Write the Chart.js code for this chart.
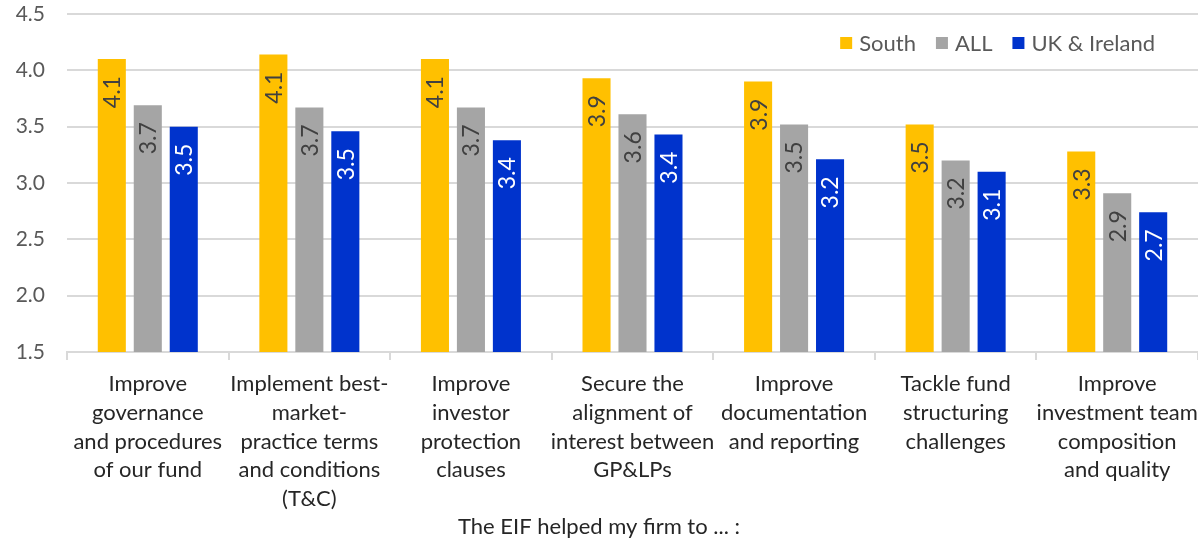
<!DOCTYPE html>
<html>
<head>
<meta charset="utf-8">
<script src="https://cdn.jsdelivr.net/npm/chart.js@4"></script>
<style>
  html, body { margin: 0; padding: 0; background: #fff; }
  #wrap { width: 1198px; height: 541px; }
</style>
</head>
<body>
<div id="wrap"><canvas id="myChart"></canvas></div>
<script>
const categories = [
  ['Improve', 'governance', 'and procedures', 'of our fund'],
  ['Implement best-', 'market-', 'practice terms', 'and conditions', '(T&C)'],
  ['Improve', 'investor', 'protection', 'clauses'],
  ['Secure the', 'alignment of', 'interest between', 'GP&LPs'],
  ['Improve', 'documentation', 'and reporting'],
  ['Tackle fund', 'structuring', 'challenges'],
  ['Improve', 'investment team', 'composition', 'and quality']
]
const southValues = [4.10, 4.14, 4.10, 3.93, 3.90, 3.52, 3.28]
const allValues = [3.69, 3.67, 3.67, 3.61, 3.52, 3.20, 2.91]
const ukValues = [3.50, 3.46, 3.38, 3.43, 3.21, 3.10, 2.74]
const yTicks = [1.5, 2.0, 2.5, 3.0, 3.5, 4.0, 4.5]

const FONT = 'Lato'
const labelColors = ['#404040', '#404040', '#ffffff']

// values written vertically inside the top of each bar
const barLabels = {
  id: 'barLabels',
  afterDatasetsDraw(chart) {
    const ctx = chart.ctx
    chart.data.datasets.forEach((ds, i) => {
      const meta = chart.getDatasetMeta(i)
      meta.data.forEach((bar, j) => {
        ctx.save()
        ctx.translate(bar.x, bar.y + 17)
        ctx.rotate(-Math.PI / 2)
        ctx.font = '23px ' + FONT
        ctx.fillStyle = labelColors[i]
        ctx.textAlign = 'right'
        ctx.textBaseline = 'middle'
        ctx.fillText(ds.data[j].toFixed(1), 0, 1)
        ctx.restore()
      })
    })
  }
}

// legend in the top right corner of the plot
const cornerLegend = {
  id: 'cornerLegend',
  afterDraw(chart) {
    const ctx = chart.ctx
    ctx.save()
    ctx.font = '22px ' + FONT
    ctx.textBaseline = 'middle'
    const y = 43
    let x = 1155
    const items = chart.data.datasets.slice().reverse()
    items.forEach(ds => {
      const w = ctx.measureText(ds.label).width
      x -= w
      ctx.fillStyle = '#595959'
      ctx.fillText(ds.label, x, y + 1)
      x -= 7 + 12
      ctx.fillStyle = ds.backgroundColor
      ctx.fillRect(x, y - 6, 12, 12)
      x -= 20
    })
    ctx.restore()
  }
}

const ctx = document.getElementById('myChart')
new Chart(ctx, {
  type: 'bar',
  data: {
    labels: categories,
    datasets: [
      { label: 'South', data: southValues, backgroundColor: '#FFC000' },
      { label: 'ALL', data: allValues, backgroundColor: '#A5A5A5' },
      { label: 'UK & Ireland', data: ukValues, backgroundColor: '#0033CC' }
    ]
  },
  options: {
    responsive: true,
    maintainAspectRatio: false,
    animation: false,
    categoryPercentage: 0.668,
    barPercentage: 0.78,
    layout: { padding: { top: 14, right: 0, left: 0, bottom: 0 } },
    plugins: {
      legend: { display: false },
      tooltip: { enabled: false },
      title: {
        display: true,
        position: 'bottom',
        text: 'The EIF helped my firm to ... :',
        color: '#262626',
        font: { family: FONT, size: 22, weight: 'normal' },
        padding: { top: 0, bottom: 1 }
      }
    },
    scales: {
      x: {
        grid: {
          offset: true,
          drawOnChartArea: false,
          tickLength: 8,
          color: '#D9D9D9',
          lineWidth: 2
        },
        border: { color: '#D9D9D9', width: 2 },
        ticks: {
          autoSkip: false,
          maxRotation: 0,
          minRotation: 0,
          padding: 10,
          color: '#262626',
          font: { family: FONT, size: 22, lineHeight: 1.3 }
        },
        afterFit: s => {
          s.height = 161.6
          s.paddingLeft = 0
          s.paddingRight = 0
        }
      },
      y: {
        min: 1.5,
        max: 4.5,
        afterBuildTicks: s => { s.ticks = yTicks.map(v => ({ value: v })) },
        grid: { color: '#D9D9D9', lineWidth: 2, drawTicks: false },
        border: { display: false },
        ticks: {
          padding: 22,
          color: '#595959',
          font: { family: FONT, size: 21 },
          callback: v => v.toFixed(1)
        },
        afterFit: s => {
          s.width = 67
          s.paddingTop = 0
          s.paddingBottom = 0
        }
      }
    }
  },
  plugins: [barLabels, cornerLegend]
})
</script>
</body>
</html>
